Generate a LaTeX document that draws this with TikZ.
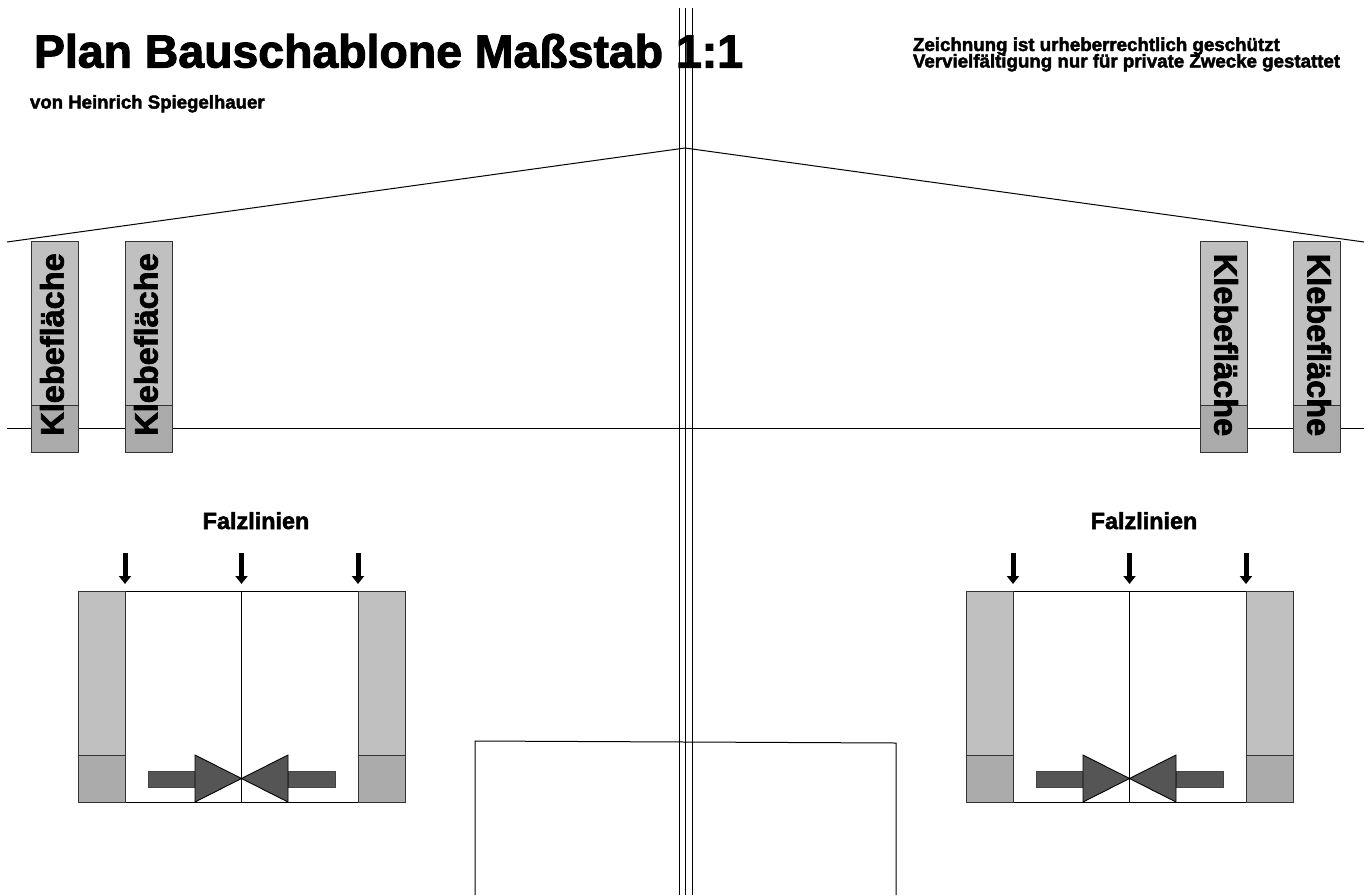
\documentclass[tikz,border=0pt]{standalone}
\usepackage{fontspec}
\newfontfamily\hf[FakeBold=2.2]{Liberation Sans Bold}
\definecolor{tablight}{HTML}{C0C0C0}
\definecolor{tabdark}{HTML}{ABABAB}
\definecolor{arrowgrey}{HTML}{555555}
\usetikzlibrary{arrows.meta}
\tikzset{
  px/.style={x=1pt,y=-1pt},
  linework/.style={draw=black,line width=1pt},
  tablightbox/.style={draw=black!80,line width=0.9pt,fill=tablight},
  tabdarkbox/.style={draw=black!80,line width=0.9pt,fill=tabdark},
  pointer/.style={draw=black,line width=5pt,-{Triangle[length=8pt,width=12pt]}},
  bigshaft/.style={draw=arrowgrey!80!black,line width=0.8pt,fill=arrowgrey},
  bighead/.style={draw=black,line width=0.9pt,fill=arrowgrey},
  txt/.style={inner sep=0pt,outer sep=0pt,text=black,font=\hf},
  klebe/.style={txt,font=\hf\fontsize{32.5}{32.5}\selectfont},
}
\newcommand{\klebetab}[5]{% left x, name, rotation, text centre y, text centre x offset
  \path[tablightbox] (#1,241) rectangle (#1+47,405);
  \path[tabdarkbox] (#1,405) rectangle (#1+47,452);
  \node[klebe,rotate=#3] (#2) at (#1+#5,#4) {Klebefläche};
}
\newcommand{\falz}[2]{% left x, name prefix
  \path[linework] (#1,591) rectangle (#1+327,802);
  \draw[linework] (#1+163.5,591) -- (#1+163.5,802);
  \path[tablightbox] (#1,591) rectangle (#1+47,755);
  \path[tabdarkbox] (#1,755) rectangle (#1+47,802);
  \path[tablightbox] (#1+280,591) rectangle (#1+327,755);
  \path[tabdarkbox] (#1+280,755) rectangle (#1+327,802);
  \path[bigshaft] (#1+70,771) rectangle (#1+117,787);
  \path[bigshaft] (#1+210,771) rectangle (#1+257,787);
  \path[bighead] (#1+117,755) -- (#1+117,802) -- (#1+163.5,778.5) -- cycle;
  \path[bighead] (#1+210,755) -- (#1+210,802) -- (#1+163.5,778.5) -- cycle;
  \coordinate (#2a1) at (#1+47,553); \coordinate (#2b1) at (#1+47,584);
  \coordinate (#2a2) at (#1+163.5,553); \coordinate (#2b2) at (#1+163.5,584);
  \coordinate (#2a3) at (#1+280,553); \coordinate (#2b3) at (#1+280,584);
  \draw[pointer] (#2a1) -- (#2b1);
  \draw[pointer] (#2a2) -- (#2b2);
  \draw[pointer] (#2a3) -- (#2b3);
  \node[txt,font=\hf\fontsize{23.4}{23.4}\selectfont,anchor=base] (#2title) at (#1+178,529) {Falzlinien};
}
\begin{document}
\begin{tikzpicture}[px]
\useasboundingbox (0,0) rectangle (1371,895);
\fill[white] (0,0) rectangle (1371,895);
% structure lines
\coordinate (vt1) at (679,8); \coordinate (vb1) at (679,895);
\coordinate (vt2) at (685.5,8); \coordinate (vb2) at (685.5,895);
\coordinate (vt3) at (692,8); \coordinate (vb3) at (692,895);
\draw[linework] (vt1) -- (vb1);
\draw[linework] (vt2) -- (vb2);
\draw[linework] (vt3) -- (vb3);
\coordinate (roofl) at (7,242); \coordinate (roofm) at (685,148); \coordinate (roofr) at (1364,242);
\draw[linework] (roofl) -- (roofm) -- (roofr);
\coordinate (basel) at (7,428); \coordinate (baser) at (1364,428);
\draw[linework] (basel) -- (baser);
\coordinate (bl) at (475,895); \coordinate (tl) at (475,741); \coordinate (tr) at (896,743); \coordinate (br) at (896,895);
\draw[linework] (bl) -- (tl) -- (tr) -- (br);
% glue tabs
\klebetab{31}{k1}{90}{344.5}{21}
\klebetab{125}{k2}{90}{344.5}{21}
\klebetab{1200}{k3}{-90}{345}{26}
\klebetab{1293}{k4}{-90}{345}{26}
% fold diagrams
\falz{78}{fa}
\falz{966}{fb}
% texts
\node[txt,font=\hf\fontsize{46.4}{46.4}\selectfont,anchor=base west] (title) at (34,67.5) {Plan Bauschablone Maßstab 1:1};
\node[txt,font=\hf\fontsize{18.6}{18.6}\selectfont,anchor=base west] (author) at (30,108.5) {von Heinrich Spiegelhauer};
\node[txt,font=\hf\fontsize{18.7}{18.7}\selectfont,anchor=base west] (c1) at (913,51) {Zeichnung ist urheberrechtlich geschützt};
\node[txt,font=\hf\fontsize{18.7}{18.7}\selectfont,anchor=base west] (c2) at (913,67.5) {Vervielfältigung nur für private Zwecke gestattet};
\end{tikzpicture}
\end{document}
